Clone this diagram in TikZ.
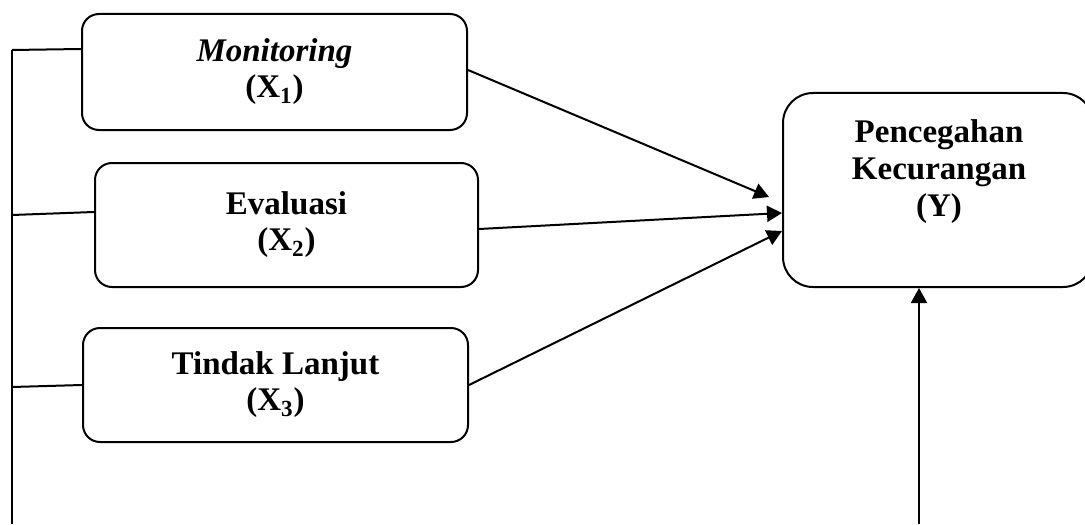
\documentclass[tikz,border=0pt]{standalone}
\usepackage{fontspec}
\setmainfont{Liberation Serif}
\usetikzlibrary{arrows.meta}

\begin{document}
\begin{tikzpicture}[%
      x=0.5pt, y=-0.5pt,
      line width=1pt,
      varbox/.style={draw=black, rounded corners=8.5pt, align=center,
        font=\fontsize{16.5}{18}\selectfont\bfseries},
      arr/.style={-{Triangle[length=7.5pt,width=8pt]}},
      ]
      \useasboundingbox (0,0) rectangle (1085,524);

      \node [varbox, minimum width=192.5pt, minimum height=58pt] (mon) at (274.5,72)
        {\textit{Monitoring}\\(X\textsubscript{1})};
      \node [varbox, minimum width=191.5pt, minimum height=62pt] (eva) at (286.5,225)
        {Evaluasi\\(X\textsubscript{2})};
      \node [varbox, minimum width=192.5pt, minimum height=57pt] (tin) at (275.5,385)
        {Tindak Lanjut\\(X\textsubscript{3})};

      \node [draw=black, rounded corners=15pt, minimum width=155pt, minimum height=97pt] (pk) at (938,190) {};
      \node [align=center, font=\fontsize{16.5}{18.5}\selectfont\bfseries] (pktext) at (939,172)
        {Pencegahan\\Kecurangan\\(Y)};

      \coordinate (ltop) at (12,50);
      \coordinate (lmid) at (12,215);
      \coordinate (llow) at (12,387);
      \coordinate (lbot) at (12,524);
      \coordinate (ybot) at (919,524);

      \draw (ltop) -- (lbot);
      \draw (ltop) -- ([yshift=11.5pt]mon.west);
      \draw (lmid) -- ([yshift=6.5pt]eva.west);
      \draw (llow) -- (tin.west);

      \draw [arr] ([yshift=1pt]mon.east) -- ([shift={(-6.5pt,-3.5pt)}]pk.west);
      \draw [arr] ([yshift=-2pt]eva.east) -- ([yshift=-11.5pt]pk.west);
      \draw [arr] (tin.east) -- ([yshift=-20.5pt]pk.west);
      \draw [arr] (ybot) -- (ybot |- pk.south);
\end{tikzpicture}
\end{document}
